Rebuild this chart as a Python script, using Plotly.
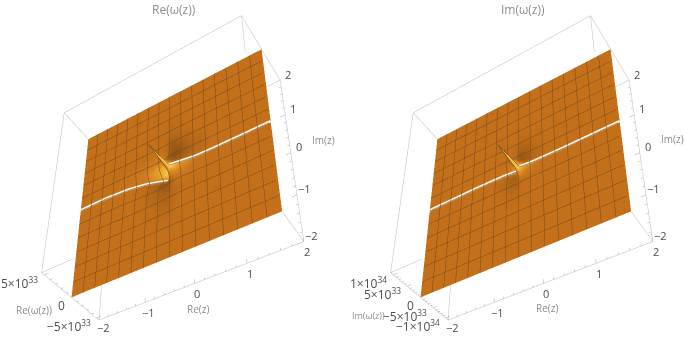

import numpy as np
import plotly.graph_objects as go

# ---------- view of the box ----------
H=600
EYE=[1.245,-2.535,1.966];CEN=[-.188,-.489,-.314];UP=[-.002,1.685,.001];ASP=[1.046,1.083,.416]

# ---------- data ----------
core=[-.9,-.55,-.3,-.15,-.05,0,.05,.15,.3,.55,.9]
grid=[-2,-1.4]+core+[1.4,2]
re_core=[
[-.08,-.08,-.05,-.03,-.01,0,.01,.02,.03,.03,.02],
[-.12,-.14,-.12,-.08,-.03,0,.03,.05,.06,.05,.03],
[-.15,-.28,-.35,-.3,-.12,0,.1,.15,.14,.09,.04],
[-.2,-.45,-.8,-.9,-.5,.1,.3,.35,.25,.1,.04],
[-.25,-.65,-1.2,-1.6,-1.5,.6,.6,.48,.32,.1,.03],
[-.25,-.7,-1.3,-1.7,-1.8,4.8,.6,.5,.35,.1,.02],
[-.2,-.5,-.9,-1.0,-.2,1.6,1.0,.5,.3,.1,.02],
[-.12,-.3,-.45,-.3,.1,.6,.5,.35,.2,.08,.02],
[-.08,-.16,-.18,-.08,.05,.15,.18,.14,.1,.05,.02],
[-.05,-.07,-.05,-.02,.01,.03,.05,.05,.05,.03,.01],
[-.02,-.02,-.02,-.01,0,0,.01,.02,.02,.01,.01]]
im_core=[
[0,0,0,0,0,0,0,0,0,0,0],
[0,0,0,0,0,0,0,0,0,0,0],
[0,0,0,0,-.1,-.1,0,.1,.1,0,0],
[0,0,-.1,-.3,-.4,.2,.3,.3,.1,0,0],
[0,-.1,-.2,-.5,-.8,1.5,.8,.4,.1,0,0],
[0,-.1,-.2,-.4,-.5,9.5,.5,.4,.2,.1,0],
[0,-.1,-.1,-.2,1,4,1.5,.6,.2,0,0],
[0,0,0,.2,.5,1,.6,.3,.1,0,0],
[0,0,0,.1,.1,.2,.1,.1,0,0,0],
[0,0,0,0,0,0,0,0,0,0,0],
[0,0,0,0,0,0,0,0,0,0,0]]
re_shade=[
[.5,.5,.47,.44,.44,.45,.47,.5,.5,.5,.5],
[.5,.48,.42,.36,.34,.36,.42,.47,.5,.5,.5],
[.5,.46,.36,.26,.24,.3,.42,.52,.54,.51,.5],
[.5,.46,.34,.22,.2,.4,.62,.68,.6,.52,.5],
[.5,.47,.4,.3,.3,.7,.9,.85,.68,.53,.5],
[.5,.5,.5,.55,.8,.95,.95,.8,.62,.52,.5],
[.52,.56,.75,.9,.95,.7,.55,.42,.42,.47,.5],
[.52,.58,.78,.85,.7,.45,.3,.25,.34,.45,.5],
[.52,.55,.62,.6,.5,.36,.24,.2,.3,.42,.5],
[.5,.5,.52,.5,.45,.36,.28,.3,.38,.47,.5],
[.5,.5,.5,.49,.46,.44,.43,.45,.48,.5,.5]]
im_shade=[
[.5,.5,.5,.5,.5,.5,.5,.5,.5,.5,.5],
[.5,.5,.48,.46,.46,.47,.49,.5,.5,.5,.5],
[.5,.5,.45,.38,.36,.42,.48,.5,.5,.5,.5],
[.5,.5,.44,.34,.3,.55,.65,.58,.52,.5,.5],
[.5,.5,.48,.42,.5,.85,.9,.7,.55,.5,.5],
[.5,.5,.5,.5,.7,.95,.9,.65,.53,.5,.5],
[.5,.5,.52,.56,.8,.7,.65,.42,.45,.5,.5],
[.5,.5,.52,.55,.6,.5,.3,.3,.42,.49,.5],
[.5,.5,.5,.5,.48,.4,.28,.3,.42,.49,.5],
[.5,.5,.5,.5,.48,.44,.4,.42,.47,.5,.5],
[.5,.5,.5,.5,.5,.5,.5,.5,.5,.5,.5]]
re_range=5.5; im_range=11.0
re_ticks=[(5,"5×10<sup>33</sup>"),(0,"0"),(-5,"−5×10<sup>33</sup>")]
im_ticks=[(10,"1×10<sup>34</sup>"),(5,"5×10<sup>33</sup>"),(0,"0"),(-5,"−5×10<sup>33</sup>"),(-10,"−1×10<sup>34</sup>")]
xy_ticks=[-2,-1,0,1,2]
xy_labels=["−2","−1","0","1","2"]

W,PH=685,H
def py(v): return 1-v/PH

BOX='#bdbdbd'; TICK='#a6a6a6'; TXT='#4d4d4d'; GREY='#8e8e8e'
FONT='Open Sans'

def lines(segs,color,width=1):
    xs,ys,zs=[],[],[]
    for a,b in segs:
        xs+= [a[0],b[0],None]; ys+=[a[1],b[1],None]; zs+=[a[2],b[2],None]
    return dict(x=xs,y=ys,z=zs,mode='lines',line=dict(color=color,width=width),hoverinfo='skip',showlegend=False)

def panel(zcore,shade,R,zticks,zminor,scene):
    Z=np.pad(np.array(zcore,float),2,constant_values=0.0)
    Sh=np.pad(np.array(shade,float),2,constant_values=0.5)
    tr=[]
    tr.append(go.Surface(x=grid,y=grid,z=Z,surfacecolor=Sh,cmin=0,cmax=1,showscale=False,scene=scene,hoverinfo='skip',
        colorscale=[[0,'#68400f'],[.5,'#c4701a'],[.8,'#eca32c'],[1,'#ffe467']],
        lighting=dict(ambient=1,diffuse=0,specular=0,roughness=1,fresnel=0),
        contours=dict(
          x=dict(show=True,start=-1.75,end=1.76,size=.25,color='#74481c',width=1,highlight=False),
          y=dict(show=True,start=-5/3,end=1.67,size=1/3,color='#74481c',width=1,highlight=False),
          z=dict(show=False,highlight=False))))
    row=Z[len(grid)//2]
    lx=[];lz=[]
    for gx,zv in zip(grid,row):
        if gx==0: lx.append(None);lz.append(None)
        else: lx.append(gx);lz.append(zv+0.02*R)
    tr.append(go.Scatter3d(x=lx,y=[0 if v is not None else None for v in lx],z=lz,mode='lines',
        line=dict(color='#fff6e6',width=5),hoverinfo='skip',showlegend=False,scene=scene))
    E=(-2,-2,-R);Fc=(2,-2,-R);Cc=(2,2,-R);V=(-2,2,-R);D=(-2,-2,R);A=(2,2,R);B=(-2,2,R)
    segs=[(E,Fc),(Fc,Cc),(Cc,A),(A,B),(B,D),(D,E),(E,V),(Cc,V),(B,V),
          (D,(-1.34,-2,R)),(A,(2,.94,R)),(Fc,(2,-2,0))]
    tr.append(go.Scatter3d(scene=scene,**lines(segs,BOX)))
    t=[]
    for v in np.arange(-2,2.01,.2):
        L=.09 if abs(v-round(v))<1e-6 else .045
        t.append(((v,-2,-R),(v,-2+L,-R)))
        t.append(((2,v,-R),(2-L,v,-R)))
    for v in np.arange(-zminor*int(R/zminor),R+.01,zminor):
        L=.09 if abs(v%5)<1e-6 else .045
        t.append(((-2,-2,v),(-2+L,-2,v)))
    tr.append(go.Scatter3d(scene=scene,**lines(t,TICK)))
    ann=[]
    f=dict(family=FONT,size=11,color=TXT)
    fz=dict(family=FONT,size=12,color=TXT)
    for v,s in zip(xy_ticks,xy_labels):
        ann.append(dict(x=v,y=-2,z=-R,text=s,showarrow=False,xanchor='center',yanchor='middle',xshift=(5 if v==-2 else 3),yshift=(-7 if v==-2 else -10),font=f))
        ann.append(dict(x=2,y=v,z=-R,text=s,showarrow=False,xanchor='center',yanchor='middle',xshift=8,yshift=6,font=f))
    for v,s in zticks:
        ann.append(dict(x=-2,y=-2,z=v,text=s,showarrow=False,xanchor='right',yanchor='middle',xshift=-4,yshift=-8,font=fz))
    return tr,ann

fig=go.Figure()
t1,a1=panel(re_core,re_shade,re_range,re_ticks,1,'scene')
t2,a2=panel(im_core,im_shade,im_range,im_ticks,1,'scene2')
for t in t1+t2: fig.add_trace(t)

def scene_layout(dom,ann):
    return dict(domain=dict(x=dom,y=[0,1]),bgcolor='white',aspectmode='manual',
        aspectratio=dict(x=ASP[0],y=ASP[1],z=ASP[2]),
        camera=dict(eye=dict(x=EYE[0],y=EYE[1],z=EYE[2]),center=dict(x=CEN[0],y=CEN[1],z=CEN[2]),up=dict(x=UP[0],y=UP[1],z=UP[2])),
        annotations=ann,dragmode='orbit')
s1=scene_layout([6/W,336/W],a1)
s1.update(xaxis=dict(visible=False,range=[-2,2]),yaxis=dict(visible=False,range=[-2,2]),zaxis=dict(visible=False,range=[-re_range,re_range]))
s2=scene_layout([355/W,685/W],a2)
s2.update(xaxis=dict(visible=False,range=[-2,2]),yaxis=dict(visible=False,range=[-2,2]),zaxis=dict(visible=False,range=[-im_range,im_range]))

texts=[("Re(ω(z))",174,9,12),("Im(ω(z))",523,9,12),("Re(z)",198,309,10),("Re(z)",547,308,10),
       ("Im(z)",323,140,10),("Im(z)",672,139,10),("Re(ω(z))",34,310,10),("Im(ω(z))",368,315,9)]
anns=[dict(xref='paper',yref='paper',x=x/W,y=py(y),xanchor='center',yanchor='middle',text=s,showarrow=False,font=dict(family=FONT,size=sz,color=GREY)) for s,x,y,sz in texts]
fig.update_layout(width=W,height=PH,margin=dict(l=0,r=0,t=0,b=0),paper_bgcolor='white',scene=s1,scene2=s2,annotations=anns,showlegend=False)
fig.write_html("out.html",post_script="document.body.style.margin='0';",config=dict(displayModeBar=False))
